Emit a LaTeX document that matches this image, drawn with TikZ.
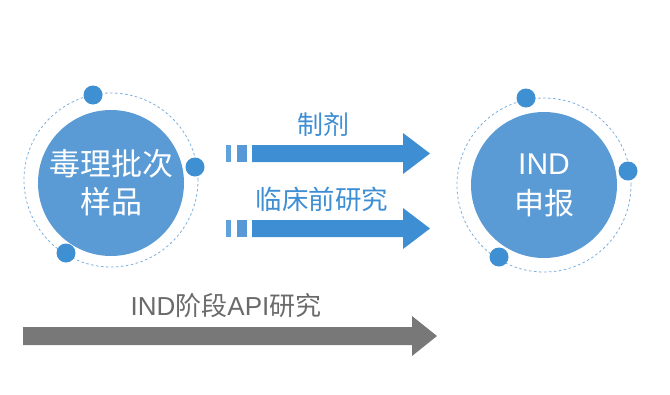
\documentclass[tikz,border=0pt]{standalone}
\usepackage{fontspec}
\setmainfont{Liberation Sans}
\newfontfamily\cjk{Noto Sans CJK SC}
\definecolor{circblue}{HTML}{5B9BD5}
\definecolor{dotblue}{HTML}{3F8FD3}
\definecolor{arrblue}{HTML}{3E8ED4}
\definecolor{lightA}{HTML}{62A2DA}
\definecolor{lightB}{HTML}{5799D6}
\definecolor{grayarr}{HTML}{787878}
\definecolor{graytxt}{HTML}{6A6A6A}
\tikzset{
  maincirc/.style={circle, fill=circblue, inner sep=0pt, minimum size=146pt, text=white, align=center},
  orbit/.style={circle, draw=circblue!80, dashed, dash pattern=on 2.5pt off 2.5pt, line width=0.8pt, inner sep=0pt, minimum size=174pt},
  dot/.style={circle, fill=dotblue, inner sep=0pt, minimum size=19pt},
  lbl/.style={inner sep=0pt, text=arrblue},
}
\begin{document}
\begin{tikzpicture}[x=1pt,y=-1pt]
\useasboundingbox (0,0) rectangle (670,394);
% left circle group
\node[orbit] (lorb) at (111,180) {};
\node[maincirc, font=\cjk\fontsize{31}{38}\selectfont] (lc) at (111,183) {毒理批次\\样品};
\node[dot] (ld1) at (93,95) {};
\node[dot] (ld2) at (195,167) {};
\node[dot] (ld3) at (66,253) {};
% right circle group
\node[orbit] (rorb) at (544,185) {};
\node[maincirc, font=\fontsize{30}{40}\selectfont] (rc) at (544,185) {IND\\{\cjk 申报}};
\node[dot] (rd1) at (526,98) {};
\node[dot] (rd2) at (628,171) {};
\node[dot] (rd3) at (499,257) {};
% arrow 1
\fill[lightA] (226,145) rectangle (231,162);
\fill[lightB] (237,145) rectangle (247,162);
\fill[arrblue] (252,145) -- (403,145) -- (403,133) -- (430,153.5) -- (403,174) -- (403,162) -- (252,162) -- cycle;
\node[lbl, font=\cjk\fontsize{26}{26}\selectfont] (t1) at (323,125) {制剂};
% arrow 2
\fill[lightA] (226,220) rectangle (231,237);
\fill[lightB] (237,220) rectangle (247,237);
\fill[arrblue] (252,220) -- (403,220) -- (403,208) -- (430,228.5) -- (403,249) -- (403,237) -- (252,237) -- cycle;
\node[lbl, font=\cjk\fontsize{26.5}{26.5}\selectfont] (t2) at (322,199) {临床前研究};
% gray arrow
\fill[grayarr] (23,327) -- (412,327) -- (412,316) -- (437,336) -- (412,356) -- (412,345) -- (23,345) -- cycle;
\node[inner sep=0pt, text=graytxt, font=\fontsize{26}{26}\selectfont] (t3) at (226,306) {IND{\cjk 阶段}API{\cjk 研究}};
\end{tikzpicture}
\end{document}
